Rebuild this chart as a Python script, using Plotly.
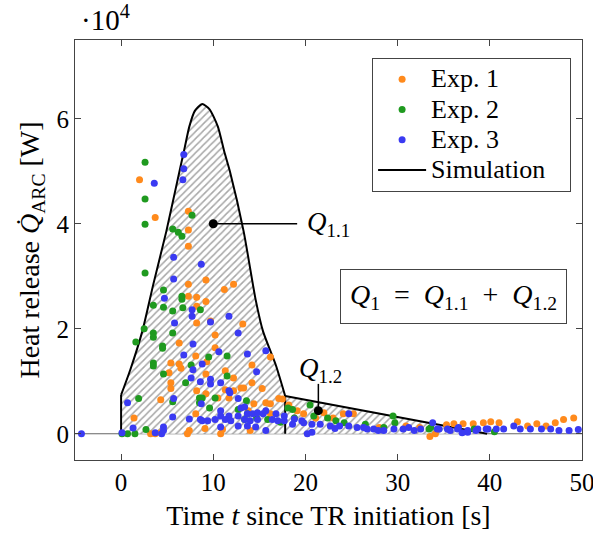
import plotly.graph_objects as go

# Measured heat release per experiment: (time [s], heat release [1e4 W])
exp1_points = [
    (2.0, 4.84), (3.7, 4.12), (7.3, 4.24), (7.3, 3.88), (7.3, 3.57), (7.3, 2.85),
    (9.2, 2.93), (11.2, 2.75), (12.2, 2.85), (7.3, 2.62), (8.2, 2.60), (9.2, 2.52),
    (8.2, 2.43), (13.2, 2.09), (8.2, 2.11), (9.7, 2.15), (10.2, 1.88), (6.3, 1.73),
    (10.2, 1.64), (8.1, 1.48), (16.2, 1.46), (5.4, 1.35), (6.3, 1.33), (6.5, 1.25),
    (5.2, 1.16), (9.3, 1.37), (14.2, 1.31), (11.3, 1.20), (9.2, 1.14), (12.2, 1.06),
    (5.4, 0.97), (5.4, 0.86), (8.2, 0.82), (14.2, 0.97), (15.3, 0.86), (13.3, 0.87),
    (12.2, 0.82), (11.3, 0.84), (9.2, 0.76), (10.5, 0.68), (11.7, 0.68), (13.0, 0.87),
    (17.1, 0.67), (4.3, 0.65), (14.4, 0.57), (16.2, 0.57), (15.7, 0.59), (13.8, 0.44),
    (16.2, 0.38), (1.4, 0.30), (8.1, 0.38), (9.1, 0.10), (11.0, 0.08), (14.0, 0.06),
    (7.4, 0.06), (3.2, 0.0), (3.7, 0.0), (4.3, 0.02), (7.2, 0.0), (10.8, 0.0),
    (17.5, 0.66), (18.2, 0.55), (19.1, 0.44), (19.8, 0.38), (21.1, 0.30), (23.0, 0.30),
    (24.1, 0.38), (25.2, 0.38), (22.0, 0.40), (28.0, 0.12), (30.9, 0.15), (32.4, 0.12),
    (33.5, -0.05), (34.1, 0.0), (35.3, 0.17), (36.1, 0.19), (37.1, 0.19), (38.2, 0.19),
    (39.3, 0.21), (40.1, 0.23), (41.0, 0.21), (43.0, 0.23), (44.1, 0.15), (45.1, 0.19),
    (46.1, 0.15), (47.1, 0.21), (48.0, 0.27), (49.1, 0.30),
]

exp2_points = [
    (2.6, 5.17), (2.6, 4.47), (2.6, 3.99), (2.6, 3.06), (7.7, 4.16), (5.6, 3.90),
    (6.2, 3.84), (6.6, 3.76), (4.6, 2.74), (6.6, 2.62), (6.6, 2.56), (3.5, 2.45),
    (4.6, 2.41), (5.6, 2.34), (6.7, 2.40), (8.6, 2.36), (2.5, 2.00), (3.5, 1.92),
    (3.5, 1.84), (5.6, 1.92), (1.6, 1.75), (4.5, 1.67), (4.5, 1.63), (7.6, 1.31),
    (3.5, 1.35), (3.5, 1.29), (4.6, 1.14), (7.0, 0.97), (9.5, 1.46), (11.5, 1.48),
    (11.5, 1.10), (8.5, 0.68), (8.5, 0.59), (5.6, 0.61), (1.9, 0.67), (10.2, 0.68),
    (8.8, 0.68), (9.6, 0.49), (12.7, 0.46), (13.6, 0.63), (13.7, 0.38), (13.4, 0.27),
    (14.7, 0.30), (15.9, 0.27), (17.3, 0.22), (2.7, 0.08), (0.1, 0.0), (0.7, 0.0),
    (1.5, 0.0), (18.1, 0.49), (18.6, 0.46), (20.5, 0.55), (18.8, 0.30), (20.9, 0.34),
    (22.4, 0.30), (23.3, 0.25), (24.2, 0.21), (26.5, 0.18), (28.5, 0.12), (29.5, 0.34),
    (29.7, 0.21), (33.4, 0.09), (33.6, 0.12), (38.3, 0.09), (40.5, 0.04),
]

exp3_points = [
    (6.8, 5.32), (6.8, 5.05), (6.7, 4.84), (3.6, 4.77), (5.7, 3.36), (8.7, 3.23),
    (5.7, 2.95), (4.7, 2.58), (7.7, 2.36), (7.7, 2.24), (11.7, 2.24), (9.7, 2.13),
    (5.8, 2.11), (12.7, 1.92), (7.8, 1.71), (10.6, 1.56), (6.8, 1.50), (13.7, 1.52),
    (15.7, 1.58), (8.8, 1.33), (7.8, 1.22), (14.7, 1.18), (7.6, 1.06), (8.6, 0.99),
    (9.7, 1.04), (9.7, 0.95), (10.8, 0.97), (11.7, 0.82), (11.8, 0.78), (12.7, 0.67),
    (5.7, 0.67), (0.7, 0.59), (8.7, 0.57), (13.0, 0.49), (13.4, 0.51), (10.8, 0.44),
    (15.7, 0.44), (16.8, 0.38), (13.7, 0.38), (14.3, 0.38), (14.8, 0.40), (15.4, 0.38),
    (10.8, 0.34), (11.7, 0.34), (12.7, 0.34), (5.6, 0.32), (7.4, 0.28), (8.8, 0.25),
    (9.4, 0.25), (8.6, 0.27), (10.2, 0.27), (11.3, 0.27), (11.9, 0.25), (13.4, 0.27),
    (14.0, 0.25), (14.8, 0.27), (16.4, 0.27), (17.0, 0.25), (17.7, 0.25), (12.7, 0.15),
    (13.7, 0.15), (14.6, 0.13), (15.7, 0.06), (10.8, 0.13), (1.3, 0.11), (4.6, 0.13),
    (4.6, 0.06), (3.7, 0.02), (0.1, 0.02), (-4.3, 0.0), (4.4, 0.0),
    (17.7, 0.34), (18.8, 0.28), (19.6, 0.25), (18.6, 0.18), (19.8, 0.21), (20.7, 0.18),
    (21.6, 0.18), (22.7, 0.15), (23.7, 0.15), (24.7, 0.15), (24.7, 0.38), (25.6, 0.12),
    (26.7, 0.09), (27.4, 0.09), (28.5, 0.06), (29.6, 0.09), (30.6, 0.09), (31.8, 0.06),
    (32.5, 0.09), (33.8, 0.21), (34.3, 0.09), (35.4, 0.09), (36.5, 0.09), (37.6, 0.03),
    (38.7, 0.09), (39.8, 0.09), (40.7, 0.09), (41.5, 0.09), (42.6, 0.15), (43.3, 0.09),
    (44.4, 0.09), (45.6, 0.09), (46.6, 0.09), (47.5, 0.06), (48.6, 0.06), (20.2, 0.0),
    (20.7, 0.03), (37.0, 0.02), (34.5, 0.09), (35.7, 0.06), (36.6, 0.12), (37.6, 0.06),
    (38.5, 0.06), (39.6, 0.09), (23.2, 0.10), (26.3, 0.12), (27.9, 0.06), (31.2, 0.12),
    (49.6, 0.08),
]

# Simulated heat release: main peak (Q1.1) and linear decay (Q1.2), in 1e4 W
sim_peak_t = [0.0, 1.0, 2.3, 3.5, 4.9, 5.9, 6.9, 7.4, 8.0, 8.8, 9.6, 10.5, 11.2,
              11.8, 13.3, 14.6, 15.4, 16.8, 17.8]
sim_peak_q = [0.74, 1.22, 1.95, 2.85, 3.85, 4.65, 5.45, 5.85, 6.15, 6.28, 6.18, 5.85,
              5.37, 5.0, 3.85, 2.55, 1.95, 1.30, 0.72]
sim_tail_t = [17.8, 39.7]
sim_tail_q = [0.72, 0.0]

# Marker positions for the two energy labels
q11_mark = (10.0, 4.0)
q12_mark = (21.4, 0.44)

SCALE = 1e4
FONT = "Liberation Serif"
COLORS = {"Exp. 1": "#ff8a1c", "Exp. 2": "#1f9a1f", "Exp. 3": "#3a3af2"}
HATCH = dict(shape="/", fgcolor="#4f4f4f", bgcolor="white", size=5, solidity=0.3)


def legend_label(text, pad=0):
    return '<span style="font-size:26px">%s%s</span>' % (text, "&nbsp;" * pad)


fig = go.Figure()

# hatched areas under the simulated curve
fig.add_trace(go.Scatter(
    x=sim_peak_t, y=[q * SCALE for q in sim_peak_q], mode="lines",
    line=dict(color="black", width=2, shape="spline", smoothing=0.6),
    fill="tozeroy", fillcolor="rgba(0,0,0,0)", fillpattern=HATCH,
    showlegend=False, hoverinfo="skip"))
fig.add_trace(go.Scatter(
    x=sim_tail_t, y=[q * SCALE for q in sim_tail_q], mode="lines",
    line=dict(color="black", width=2),
    fill="tozeroy", fillcolor="rgba(0,0,0,0)", fillpattern=HATCH,
    showlegend=False, hoverinfo="skip"))
# vertical edges of the simulated regions
fig.add_trace(go.Scatter(
    x=[sim_peak_t[0], sim_peak_t[0], None, sim_tail_t[0], sim_tail_t[0]],
    y=[0, sim_peak_q[0] * SCALE, None, sim_tail_q[0] * SCALE, 0],
    mode="lines", line=dict(color="black", width=2),
    showlegend=False, hoverinfo="skip"))

for name, pts in (("Exp. 1", exp1_points), ("Exp. 2", exp2_points), ("Exp. 3", exp3_points)):
    fig.add_trace(go.Scatter(
        x=[p[0] for p in pts], y=[p[1] * SCALE for p in pts],
        mode="markers", name=legend_label(name),
        marker=dict(color=COLORS[name], size=7, line=dict(width=0))))

# legend entry for the simulation
fig.add_trace(go.Scatter(x=[None], y=[None], mode="lines",
                         name=legend_label("Simulation", pad=3),
                         line=dict(color="black", width=2)))

# label markers with leader lines
fig.add_trace(go.Scatter(
    x=[q11_mark[0], 19.1, None, q12_mark[0], q12_mark[0]],
    y=[q11_mark[1] * SCALE, q11_mark[1] * SCALE, None, q12_mark[1] * SCALE, 0.95 * SCALE],
    mode="lines", line=dict(color="black", width=1.5),
    showlegend=False, hoverinfo="skip"))
fig.add_trace(go.Scatter(
    x=[q11_mark[0], q12_mark[0]], y=[q11_mark[1] * SCALE, q12_mark[1] * SCALE],
    mode="markers", marker=dict(color="black", size=9),
    showlegend=False, hoverinfo="skip"))

fig.add_shape(type="line", xref="x", yref="y", x0=-5, x1=50, y0=0, y1=0,
              line=dict(color="#666666", width=1), layer="below")

fig.add_annotation(x=20.0, y=4.0 * SCALE, xref="x", yref="y", xanchor="left",
                   yanchor="middle", text="<i>Q</i><sub>1.1</sub>", showarrow=False,
                   font=dict(family=FONT, size=27, color="black"))
fig.add_annotation(x=21.6, y=1.22 * SCALE, xref="x", yref="y", xanchor="center",
                   yanchor="middle", text="<i>Q</i><sub>1.2</sub>", showarrow=False,
                   font=dict(family=FONT, size=27, color="black"))
fig.add_annotation(x=0.746, y=0.39, xref="paper", yref="paper", xanchor="center",
                   yanchor="middle",
                   text="<i>Q</i><sub>1</sub>&nbsp; = &nbsp;<i>Q</i><sub>1.1</sub>&nbsp; + "
                        "&nbsp;<i>Q</i><sub>1.2</sub>",
                   showarrow=False, bordercolor="#444444", borderwidth=1, borderpad=9,
                   bgcolor="white", font=dict(family=FONT, size=28, color="black"))
fig.add_annotation(x=0.0, y=1.0, xref="paper", yref="paper", xanchor="left",
                   yanchor="bottom", yshift=2, xshift=4,
                   text="·10<sup>4</sup>", showarrow=False,
                   font=dict(family=FONT, size=29, color="black"))

axis_common = dict(showgrid=False, zeroline=False, showline=True, linecolor="#444444",
                   linewidth=1, mirror="ticks", ticks="inside", ticklen=6,
                   tickcolor="#444444", automargin=False, ticklabeloverflow="allow",
                   tickfont=dict(family=FONT, size=25, color="black"))

fig.update_layout(
    width=593, height=536,
    margin=dict(l=75, r=11, t=40, b=76),
    paper_bgcolor="white", plot_bgcolor="white",
    font=dict(family=FONT, size=24, color="black"),
    xaxis=dict(range=[-5, 50], tickvals=[0, 10, 20, 30, 40, 50],
               title=dict(text="Time <i>t</i> since TR initiation [s]",
                          font=dict(family=FONT, size=28), standoff=10),
               **axis_common),
    yaxis=dict(range=[-0.5 * SCALE, 7.5 * SCALE],
               tickvals=[0, 2 * SCALE, 4 * SCALE, 6 * SCALE], ticktext=["0", "2", "4", "6"],
               title=dict(text="Heat release <i>Q̇</i><sub>ARC</sub> [W]",
                          font=dict(family=FONT, size=28), standoff=8),
               **axis_common),
    legend=dict(x=0.586, y=0.957, xanchor="left", yanchor="top",
                bordercolor="#444444", borderwidth=1, bgcolor="white",
                font=dict(family=FONT, size=21, color="black"),
                tracegroupgap=0, itemwidth=48),
    showlegend=True,
)

fig.write_html("out.html")
